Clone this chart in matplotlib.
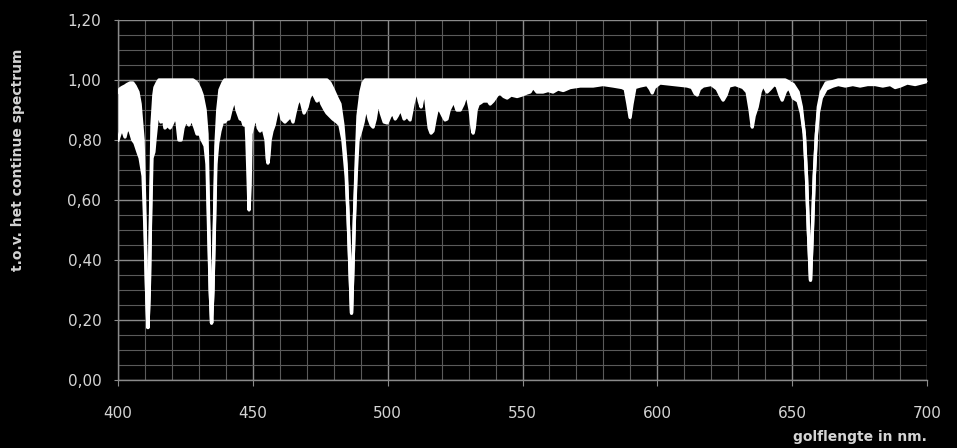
import matplotlib
matplotlib.use('Agg')
import matplotlib.pyplot as plt
from matplotlib.ticker import MultipleLocator, FuncFormatter

plt.rcParams['font.family'] = 'DejaVu Sans'

# golflengte (nm) met boven- en onderrand van het genormeerde spectrum
wavelength = [
    400.0, 400.7, 401.5, 402.6, 403.4, 404.5, 405.5, 406.3, 407.4, 408.2,
    409.3, 410.0, 410.6, 411.1, 411.6, 412.1, 412.6, 413.3, 413.7, 414.5,
    415.2, 415.9, 416.7, 417.4, 418.5, 419.3, 420.4, 421.1, 421.9, 422.6,
    423.4, 424.1, 424.9, 425.6, 426.3, 427.1, 427.8, 428.6, 429.3, 430.4,
    431.2, 432.3, 433.0, 433.6, 434.2, 434.7, 435.2, 435.8, 436.3, 437.0,
    437.8, 438.9, 439.6, 440.4, 441.1, 441.9, 442.6, 443.4, 444.1, 445.3,
    446.0, 446.7, 447.5, 447.8, 448.3, 448.6, 449.0, 449.3, 450.4, 451.2,
    452.0, 452.7, 453.4, 454.1, 454.9, 455.3, 455.6, 456.0, 456.4, 457.1,
    457.9, 458.6, 459.4, 460.1, 460.8, 461.9, 463.0, 464.1, 464.9, 465.6,
    466.4, 467.5, 468.2, 469.0, 470.1, 470.9, 472.0, 472.7, 473.8, 474.9,
    475.6, 476.8, 477.5, 478.6, 479.7, 481.2, 482.3, 483.4, 484.6, 485.3,
    485.9, 486.6, 487.2, 487.7, 488.3, 489.0, 490.1, 490.9, 491.7, 492.4,
    493.1, 493.9, 494.6, 495.4, 496.1, 496.9, 497.6, 498.7, 499.8, 500.9,
    502.0, 502.8, 503.5, 504.6, 505.4, 506.1, 507.2, 508.3, 509.4, 510.2,
    510.9, 511.7, 512.4, 513.2, 513.9, 514.6, 515.4, 516.1, 516.8, 517.6,
    518.3, 519.4, 520.5, 521.3, 522.0, 522.8, 523.9, 524.6, 525.7, 526.9,
    528.0, 528.7, 529.5, 530.6, 531.3, 531.7, 532.1, 532.8, 533.6, 534.3,
    535.4, 536.5, 537.3, 538.0, 539.1, 540.6, 541.7, 543.1, 544.3, 545.8,
    548.0, 549.8, 551.7, 552.8, 553.9, 555.4, 557.6, 559.5, 561.3, 563.2,
    565.1, 567.7, 571.4, 576.2, 579.9, 583.6, 586.9, 588.1, 589.1, 589.9,
    590.6, 591.7, 593.6, 596.2, 597.4, 598.1, 598.9, 601.0, 605.9, 611.1,
    612.9, 614.0, 614.8, 615.6, 617.0, 620.0, 622.2, 623.3, 624.4, 625.5,
    626.6, 628.9, 631.8, 633.3, 634.4, 635.2, 635.9, 637.0, 638.1, 639.2,
    640.7, 641.8, 643.3, 644.4, 645.5, 646.3, 647.4, 648.5, 649.3, 650.4,
    652.2, 653.4, 654.5, 655.3, 656.0, 656.8, 657.5, 658.2, 659.0, 659.7,
    660.8, 662.6, 665.2, 667.1, 669.7, 672.5, 675.2, 678.0, 680.8, 683.6,
    686.4, 688.2, 690.1, 692.7, 695.6, 697.8, 700.0,
]
upper = [
    0.96, 0.97, 0.975, 0.98, 0.985, 0.99, 0.99, 0.98, 0.96, 0.92,
    0.80, 0.55, 0.30, 0.175, 0.30, 0.58, 0.85, 0.95, 0.975, 0.99,
    1.0, 1.0, 1.0, 1.0, 1.0, 1.0, 1.0, 1.0, 1.0, 1.0,
    1.0, 1.0, 1.0, 1.0, 1.0, 1.0, 1.0, 0.995, 0.99, 0.97,
    0.95, 0.90, 0.82, 0.55, 0.30, 0.19, 0.30, 0.55, 0.78, 0.90,
    0.967, 0.99, 1.0, 1.0, 1.0, 1.0, 1.0, 1.0, 1.0, 1.0,
    1.0, 1.0, 1.0, 1.0, 1.0, 1.0, 1.0, 1.0, 1.0, 1.0,
    1.0, 1.0, 1.0, 1.0, 1.0, 1.0, 1.0, 1.0, 1.0, 1.0,
    1.0, 1.0, 1.0, 1.0, 1.0, 1.0, 1.0, 1.0, 1.0, 1.0,
    1.0, 1.0, 1.0, 1.0, 1.0, 1.0, 1.0, 1.0, 1.0, 1.0,
    1.0, 1.0, 1.0, 0.99, 0.97, 0.94, 0.92, 0.85, 0.72, 0.55,
    0.40, 0.223, 0.40, 0.55, 0.72, 0.88, 0.96, 0.99, 1.0, 1.0,
    1.0, 1.0, 1.0, 1.0, 1.0, 1.0, 1.0, 1.0, 1.0, 1.0,
    1.0, 1.0, 1.0, 1.0, 1.0, 1.0, 1.0, 1.0, 1.0, 1.0,
    1.0, 1.0, 1.0, 1.0, 1.0, 1.0, 1.0, 1.0, 1.0, 1.0,
    1.0, 1.0, 1.0, 1.0, 1.0, 1.0, 1.0, 1.0, 1.0, 1.0,
    1.0, 1.0, 1.0, 1.0, 1.0, 1.0, 1.0, 1.0, 1.0, 1.0,
    1.0, 1.0, 1.0, 1.0, 1.0, 1.0, 1.0, 1.0, 1.0, 1.0,
    1.0, 1.0, 1.0, 1.0, 1.0, 1.0, 1.0, 1.0, 1.0, 1.0,
    1.0, 1.0, 1.0, 1.0, 1.0, 1.0, 1.0, 1.0, 1.0, 1.0,
    1.0, 1.0, 1.0, 1.0, 1.0, 1.0, 1.0, 1.0, 1.0, 1.0,
    1.0, 1.0, 1.0, 1.0, 1.0, 1.0, 1.0, 1.0, 1.0, 1.0,
    1.0, 1.0, 1.0, 1.0, 1.0, 1.0, 1.0, 1.0, 1.0, 1.0,
    1.0, 1.0, 1.0, 1.0, 1.0, 1.0, 1.0, 0.995, 0.99, 0.985,
    0.96, 0.91, 0.82, 0.68, 0.50, 0.333, 0.50, 0.68, 0.82, 0.91,
    0.96, 0.99, 0.995, 1.0, 1.0, 1.0, 1.0, 1.0, 1.0, 1.0,
    1.0, 1.0, 1.0, 1.0, 1.0, 1.0, 1.0,
]
lower = [
    0.80, 0.82, 0.84, 0.81, 0.84, 0.83, 0.80, 0.79, 0.76, 0.74,
    0.68, 0.50, 0.30, 0.175, 0.30, 0.55, 0.74, 0.76, 0.80, 0.87,
    0.89, 0.86, 0.88, 0.84, 0.85, 0.84, 0.86, 0.88, 0.86, 0.80,
    0.80, 0.84, 0.86, 0.86, 0.85, 0.87, 0.86, 0.84, 0.82, 0.82,
    0.80, 0.78, 0.72, 0.50, 0.30, 0.19, 0.30, 0.52, 0.72, 0.79,
    0.83, 0.867, 0.86, 0.87, 0.87, 0.90, 0.92, 0.935, 0.90, 0.87,
    0.87, 0.85, 0.86, 0.80, 0.65, 0.567, 0.65, 0.82, 0.86, 0.88,
    0.84, 0.83, 0.84, 0.83, 0.80, 0.74, 0.723, 0.75, 0.80, 0.83,
    0.85, 0.88, 0.91, 0.90, 0.87, 0.86, 0.87, 0.88, 0.86, 0.89,
    0.92, 0.943, 0.92, 0.89, 0.91, 0.94, 0.96, 0.95, 0.93, 0.94,
    0.92, 0.90, 0.89, 0.88, 0.87, 0.86, 0.85, 0.80, 0.68, 0.55,
    0.40, 0.223, 0.40, 0.55, 0.68, 0.80, 0.833, 0.86, 0.90, 0.90,
    0.87, 0.85, 0.843, 0.87, 0.91, 0.92, 0.89, 0.86, 0.857, 0.88,
    0.89, 0.87, 0.88, 0.90, 0.89, 0.87, 0.88, 0.867, 0.92, 0.95,
    0.967, 0.93, 0.91, 0.95, 0.96, 0.90, 0.84, 0.823, 0.83, 0.87,
    0.90, 0.90, 0.88, 0.867, 0.87, 0.90, 0.92, 0.93, 0.90, 0.90,
    0.92, 0.94, 0.95, 0.90, 0.84, 0.823, 0.84, 0.90, 0.92, 0.923,
    0.93, 0.93, 0.93, 0.92, 0.93, 0.95, 0.957, 0.945, 0.94, 0.95,
    0.945, 0.95, 0.957, 0.96, 0.977, 0.96, 0.96, 0.965, 0.96, 0.97,
    0.965, 0.975, 0.98, 0.98, 0.985, 0.98, 0.975, 0.97, 0.92, 0.875,
    0.92, 0.975, 0.98, 0.985, 0.97, 0.957, 0.975, 0.99, 0.985, 0.98,
    0.975, 0.955, 0.95, 0.97, 0.98, 0.985, 0.97, 0.95, 0.933, 0.95,
    0.98, 0.985, 0.975, 0.96, 0.90, 0.843, 0.88, 0.91, 0.96, 0.985,
    0.96, 0.97, 0.985, 0.98, 0.95, 0.933, 0.96, 0.975, 0.965, 0.94,
    0.93, 0.89, 0.82, 0.68, 0.50, 0.333, 0.50, 0.68, 0.82, 0.89,
    0.94, 0.97, 0.98, 0.985, 0.98, 0.985, 0.98, 0.985, 0.985, 0.98,
    0.985, 0.975, 0.98, 0.99, 0.985, 0.99, 0.995,
]

y_ticks = [0.0, 0.2, 0.4, 0.6, 0.8, 1.0, 1.2]
x_ticks = [400, 450, 500, 550, 600, 650, 700]

text_color = '#d4d4d4'
major_grid = '#8a8a8a'
minor_grid = '#5a5a5a'

fig = plt.figure(figsize=(9.57, 4.48), dpi=100, facecolor='black')
ax = fig.add_axes([118 / 957, 1 - 380 / 448, (927 - 118) / 957, 360 / 448])
ax.set_facecolor('black')

# witte vulling tussen boven- en onderrand, met lijnen voor de dikte
ax.fill_between(wavelength, lower, upper, color='white', linewidth=0, zorder=3)
ax.plot(wavelength, upper, color='white', linewidth=2.4, zorder=4)
ax.plot(wavelength, lower, color='white', linewidth=2.4, zorder=4)

ax.set_xlim(400, 700)
ax.set_ylim(0, 1.2)
ax.set_xticks(x_ticks)
ax.set_yticks(y_ticks)
ax.xaxis.set_minor_locator(MultipleLocator(10))
ax.yaxis.set_minor_locator(MultipleLocator(0.05))
ax.yaxis.set_major_formatter(FuncFormatter(lambda v, p: f'{v:.2f}'.replace('.', ',')))

ax.grid(True, which='major', color=major_grid, linewidth=1.0, zorder=1)
ax.grid(True, which='minor', color=minor_grid, linewidth=0.8, zorder=1)
ax.set_axisbelow(True)

for side in ['top', 'right']:
    ax.spines[side].set_visible(False)
for side in ['left', 'bottom']:
    ax.spines[side].set_color(major_grid)
    ax.spines[side].set_linewidth(1.0)

ax.tick_params(axis='both', which='minor', length=0)
ax.tick_params(axis='y', which='major', length=3, color=major_grid,
               labelcolor=text_color, labelsize=11, pad=9)
ax.tick_params(axis='x', which='major', length=4, color=major_grid,
               labelcolor=text_color, labelsize=11, pad=15)

fig.text(927 / 957, 1 - 437 / 448, 'golflengte in nm.', color=text_color,
         fontsize=10, fontweight='bold', ha='right', va='center')
fig.text(18 / 957, 1 - 160 / 448, 't.o.v. het continue spectrum', color=text_color,
         fontsize=10, fontweight='bold', rotation=90, ha='center', va='center')

fig.savefig('out.png', dpi=100, facecolor='black')
